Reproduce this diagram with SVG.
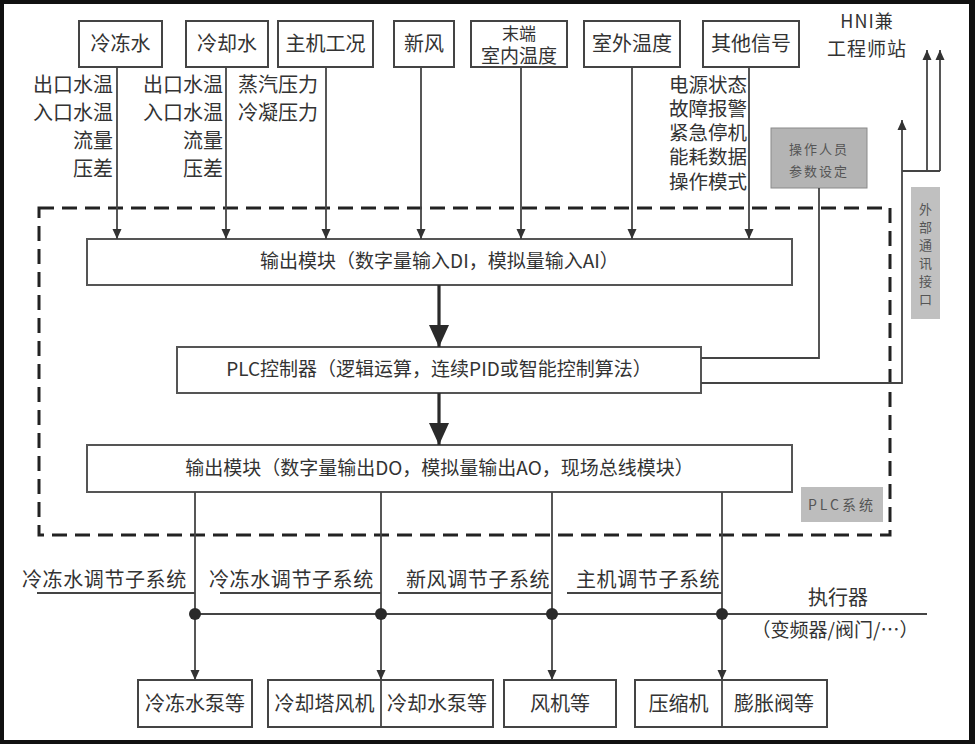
<svg xmlns="http://www.w3.org/2000/svg" width="975" height="744" viewBox="0 0 975 744">
<defs>
<style>
text{font-family:"Noto Sans CJK SC","Noto Sans",sans-serif;fill:#333}
.box{fill:#fff;stroke:#444;stroke-width:2}
.mod{fill:#fff;stroke:#555;stroke-width:2}
.t20{font-size:20px}
.t19{font-size:19px}
.c{text-anchor:middle}
.r{text-anchor:end}
.ln{fill:none;stroke:#444;stroke-width:1.8}
.big{fill:none;stroke:#2a2a2a;stroke-width:3.2}
.gray{fill:#b4b4b4;stroke:#8a8a8a;stroke-width:1}
.gt{font-size:13px;fill:#555}
</style>
<marker id="a" markerUnits="userSpaceOnUse" markerWidth="10" markerHeight="10" refX="10" refY="5" orient="auto"><path d="M0,0.5 L10,5 L0,9.5 z" fill="#333"/></marker>
<marker id="A" markerUnits="userSpaceOnUse" markerWidth="22" markerHeight="20" refX="22" refY="10" orient="auto"><path d="M0,0 L22,10 L0,20 z" fill="#2a2a2a"/></marker>
</defs>
<rect x="0" y="0" width="975" height="744" fill="#111"/>
<rect x="4" y="4" width="965" height="736" fill="#fff"/>

<!-- PLC system dashed boundary -->
<g id="plc-system">
<rect x="39" y="208" width="851" height="327" fill="none" stroke="#222" stroke-width="3" stroke-dasharray="15,8"/>
<rect x="801" y="487" width="82" height="35" fill="#bdbdbd"/>
<text x="842" y="510" class="c" style="font-size:14px;fill:#555;letter-spacing:3px">PLC系统</text>
</g>

<!-- top input nodes -->
<g id="n-chilled"><rect class="box" x="79" y="21" width="83" height="46"/><text class="t20 c" x="120.5" y="51">冷冻水</text></g>
<g id="n-cooling"><rect class="box" x="186" y="21" width="82" height="46"/><text class="t20 c" x="227" y="51">冷却水</text></g>
<g id="n-host"><rect class="box" x="278" y="21" width="95" height="46"/><text class="t20 c" x="325.5" y="51">主机工况</text></g>
<g id="n-fresh"><rect class="box" x="394" y="21" width="60" height="46"/><text class="t20 c" x="424" y="51">新风</text></g>
<g id="n-terminal"><rect class="box" x="471" y="21" width="96" height="46"/><text class="c" style="font-size:17px" x="519" y="40">末端</text><text class="c" style="font-size:19px" x="519" y="63">室内温度</text></g>
<g id="n-outdoor"><rect class="box" x="584" y="21" width="96" height="46"/><text class="t20 c" x="632" y="51">室外温度</text></g>
<g id="n-other"><rect class="box" x="703" y="21" width="96" height="46"/><text class="t20 c" x="751" y="51">其他信号</text></g>

<!-- signal labels -->
<g id="labels-chilled" class="t20 r">
<text x="113" y="92">出口水温</text><text x="113" y="120">入口水温</text><text x="113" y="148">流量</text><text x="113" y="176">压差</text>
</g>
<g id="labels-cooling" class="t20 r">
<text x="223" y="92">出口水温</text><text x="223" y="120">入口水温</text><text x="223" y="148">流量</text><text x="223" y="176">压差</text>
</g>
<g id="labels-host" class="t20">
<text x="238" y="92">蒸汽压力</text><text x="238" y="120">冷凝压力</text>
</g>
<g id="labels-other" class="r" style="font-size:19.5px">
<text x="747" y="92">电源状态</text><text x="747" y="116">故障报警</text><text x="747" y="140">紧急停机</text><text x="747" y="164">能耗数据</text><text x="747" y="189">操作模式</text>
</g>

<!-- HNI -->
<g id="n-hni">
<text class="c" style="font-size:18px;letter-spacing:1px" x="867" y="28">HNI兼</text>
<text class="c" style="font-size:19px;letter-spacing:1px" x="867" y="56">工程师站</text>
</g>

<!-- operator -->
<g id="n-operator">
<rect class="gray" x="771" y="128" width="96" height="60" fill="#ababab"/>
<text class="gt c" x="819" y="154" style="letter-spacing:2px">操作人员</text>
<text class="gt c" x="819" y="176" style="letter-spacing:2px">参数设定</text>
</g>

<!-- external interface -->
<g id="n-external">
<rect x="911" y="187" width="29" height="132" fill="#c0c0c0"/>
<text class="gt c" x="925.5" y="214">外</text>
<text class="gt c" x="925.5" y="232">部</text>
<text class="gt c" x="925.5" y="250">通</text>
<text class="gt c" x="925.5" y="268">讯</text>
<text class="gt c" x="925.5" y="286">接</text>
<text class="gt c" x="925.5" y="304">口</text>
</g>

<!-- modules -->
<g id="n-input"><rect class="mod" x="87" y="239" width="705" height="46"/><text class="t19 c" x="439.5" y="268">输出模块（数字量输入DI，模拟量输入AI）</text></g>
<g id="n-plc"><rect class="mod" x="177" y="347" width="524" height="46"/><text class="t19 c" x="439" y="376">PLC控制器（逻辑运算，连续PID或智能控制算法）</text></g>
<g id="n-output"><rect class="mod" x="87" y="445" width="705" height="47"/><text class="t19 c" x="439.5" y="475">输出模块（数字量输出DO，模拟量输出AO，现场总线模块）</text></g>

<!-- subsystem labels -->
<g id="labels-sub" class="t20" style="letter-spacing:0.6px">
<text x="22" y="587">冷冻水调节子系统</text>
<text x="209" y="587">冷冻水调节子系统</text>
<text x="406" y="587">新风调节子系统</text>
<text x="576" y="587">主机调节子系统</text>
</g>
<g id="n-actuator">
<text class="t20 c" x="838" y="605">执行器</text>
<text class="t19 c" x="835" y="637">（变频器/阀门/…）</text>
</g>

<!-- bottom nodes -->
<g id="n-pump1"><rect class="box" x="138" y="680" width="114" height="47"/><text class="t20 c" x="195" y="711">冷冻水泵等</text></g>
<g id="n-tower"><rect class="box" x="268" y="680" width="225" height="47"/><text class="t20 c" x="324.5" y="711">冷却塔风机</text><text class="t20 c" x="437" y="711">冷却水泵等</text></g>
<g id="n-fan"><rect class="box" x="504" y="680" width="112" height="47"/><text class="t20 c" x="560" y="711">风机等</text></g>
<g id="n-comp"><rect class="box" x="635" y="680" width="192" height="47"/><text class="t20 c" x="678.5" y="711">压缩机</text><text class="t20 c" x="774" y="711">膨胀阀等</text></g>

<!-- connectors -->
<g id="connectors">
<path class="ln" d="M117,67 V239" marker-end="url(#a)"/>
<path class="ln" d="M226,67 V239" marker-end="url(#a)"/>
<path class="ln" d="M326,67 V239" marker-end="url(#a)"/>
<path class="ln" d="M421,67 V239" marker-end="url(#a)"/>
<path class="ln" d="M521,67 V239" marker-end="url(#a)"/>
<path class="ln" d="M632,67 V239" marker-end="url(#a)"/>
<path class="ln" d="M749,67 V239" marker-end="url(#a)"/>
<path class="big" d="M439,285 V347" marker-end="url(#A)"/>
<path class="big" d="M439,393 V445" marker-end="url(#A)"/>
<path class="ln" d="M819,188 V358 H701"/>
<path class="ln" d="M701,383 H902 V120" marker-end="url(#a)"/>
<path class="ln" d="M902,171 H940"/>
<path class="ln" d="M927,171 V50" marker-end="url(#a)"/>
<path class="ln" d="M940,171 V50" marker-end="url(#a)"/>
<path class="ln" d="M195,492 V680" marker-end="url(#a)"/>
<path class="ln" d="M381,492 V680" marker-end="url(#a)"/>
<path class="ln" d="M381,680 V727"/>
<path class="ln" d="M552,492 V680" marker-end="url(#a)"/>
<path class="ln" d="M722,492 V680" marker-end="url(#a)"/>
<path class="ln" d="M722,680 V727"/>
<path class="ln" d="M37,593 H195 M220,593 H381 M398,593 H552 M567,593 H722"/>
<path class="ln" d="M195,614 H927"/>
<circle cx="195" cy="614" r="6" fill="#2a2a2a"/>
<circle cx="381" cy="614" r="6" fill="#2a2a2a"/>
<circle cx="552" cy="614" r="6" fill="#2a2a2a"/>
<circle cx="722" cy="614" r="6" fill="#2a2a2a"/>
</g>
</svg>
